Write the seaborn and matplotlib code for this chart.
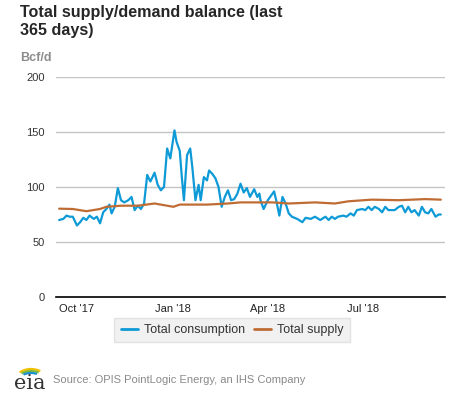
import pandas as pd
import numpy as np
import matplotlib
matplotlib.use("Agg")
import matplotlib.pyplot as plt
import matplotlib.dates as mdates
from matplotlib.patches import Arc
import seaborn as sns

# readings taken off the chart (Bcf/d)
cons_dates = [
    "2017-09-14", "2017-09-18", "2017-09-21", "2017-09-24", "2017-09-27", "2017-10-01",
    "2017-10-04", "2017-10-07", "2017-10-10", "2017-10-13", "2017-10-17", "2017-10-20",
    "2017-10-23", "2017-10-26", "2017-10-29", "2017-11-01", "2017-11-03", "2017-11-06",
    "2017-11-09", "2017-11-12", "2017-11-15", "2017-11-19", "2017-11-22", "2017-11-25",
    "2017-11-28", "2017-12-01", "2017-12-04", "2017-12-07", "2017-12-10", "2017-12-14",
    "2017-12-17", "2017-12-20", "2017-12-23", "2017-12-26", "2017-12-29", "2018-01-02",
    "2018-01-04", "2018-01-07", "2018-01-09", "2018-01-11", "2018-01-14", "2018-01-17",
    "2018-01-19", "2018-01-22", "2018-01-25", "2018-01-27", "2018-01-30", "2018-02-02",
    "2018-02-04", "2018-02-07", "2018-02-10", "2018-02-13", "2018-02-16", "2018-02-19",
    "2018-02-22", "2018-02-25", "2018-02-28", "2018-03-03", "2018-03-06", "2018-03-09",
    "2018-03-12", "2018-03-15", "2018-03-19", "2018-03-22", "2018-03-24", "2018-03-25",
    "2018-03-28", "2018-04-01", "2018-04-04", "2018-04-07", "2018-04-09", "2018-04-12",
    "2018-04-15", "2018-04-18", "2018-04-21", "2018-04-24", "2018-04-29", "2018-05-04",
    "2018-05-07", "2018-05-12", "2018-05-16", "2018-05-21", "2018-05-26", "2018-05-29",
    "2018-06-01", "2018-06-04", "2018-06-07", "2018-06-12", "2018-06-15", "2018-06-19",
    "2018-06-22", "2018-06-25", "2018-06-30", "2018-07-03", "2018-07-06", "2018-07-09",
    "2018-07-12", "2018-07-16", "2018-07-19", "2018-07-22", "2018-07-25", "2018-07-28",
    "2018-07-31", "2018-08-04", "2018-08-07", "2018-08-10", "2018-08-13", "2018-08-16",
    "2018-08-19", "2018-08-23", "2018-08-26", "2018-08-29", "2018-09-01", "2018-09-04",
    "2018-09-08", "2018-09-11", "2018-09-13",
]
consumption = [
    70, 71, 74, 73, 73, 65,
    68, 72, 70, 74, 71, 73,
    67, 77, 80, 84, 76, 82,
    99, 88, 86, 88, 91, 79,
    83, 80, 85, 111, 105, 113,
    102, 97, 100, 135, 126, 151.5,
    141, 133, 109, 88, 129, 135,
    118, 88, 102, 88, 109, 106,
    115, 112, 108, 100, 82, 91,
    97, 88, 89, 94, 103, 95,
    99, 91, 98, 91, 94, 88,
    80, 88, 92, 96, 88, 74,
    91, 85, 76, 73, 71, 68,
    72, 71, 73, 70, 73, 70,
    73, 71, 73, 74, 73, 76,
    74, 79, 80, 79, 82, 79,
    82, 80, 77, 82, 79, 79,
    79, 82, 83, 77, 82, 77,
    79, 74, 82, 77, 76, 80,
    73, 75, 75,
]

supply_dates = [
    "2017-09-14", "2017-09-27", "2017-10-10", "2017-10-23", "2017-10-29", "2017-11-12",
    "2017-11-28", "2017-12-14", "2018-01-01", "2018-01-07", "2018-02-02", "2018-02-22",
    "2018-03-06", "2018-03-22", "2018-04-06", "2018-04-21", "2018-05-16", "2018-06-04",
    "2018-06-17", "2018-07-09", "2018-08-04", "2018-08-29", "2018-09-13",
]
supply = [
    80.3, 80, 78, 80, 82, 83,
    83, 85, 82, 84, 84, 85,
    86, 86, 86, 85, 86, 85,
    87, 88.5, 88, 89, 88.5,
]

tick_dates = ["2017-10-01", "2018-01-01", "2018-04-01", "2018-07-01"]
tick_labels = ["Oct '17", "Jan '18", "Apr '18", "Jul '18"]
y_ticks = [0, 50, 100, 150, 200]

blue = "#0d9ad7"
brown = "#bf6c34"

df = pd.concat([
    pd.DataFrame({"date": pd.to_datetime(cons_dates), "value": consumption,
                  "series": "Total consumption"}),
    pd.DataFrame({"date": pd.to_datetime(supply_dates), "value": supply,
                  "series": "Total supply"}),
])

sns.set_style("white")
plt.rcParams["font.family"] = ["Liberation Sans", "DejaVu Sans"]

fig = plt.figure(figsize=(4.77, 3.93), dpi=100)
ax = fig.add_axes([56 / 477, 1 - 297 / 393, (445 - 56) / 477, 220 / 393])

sns.lineplot(data=df, x="date", y="value", hue="series",
             palette=[blue, brown], linewidth=1.6, ax=ax, legend=False)

ax.set_ylim(0, 200)
ax.set_xlim(pd.Timestamp("2017-09-11"), pd.Timestamp("2018-09-17"))
ax.set_yticks(y_ticks)
ax.set_yticklabels([str(v) for v in y_ticks], color="#333333", fontsize=8)
ax.set_xticks(pd.to_datetime(tick_dates))
ax.set_xticklabels(tick_labels, color="#222222", fontsize=8)
ax.tick_params(axis="x", length=5, width=1, color="black", pad=0, direction="out")
ax.tick_params(axis="y", length=0, pad=8)
ax.grid(axis="y", color="#c4c4c4", linewidth=1)
ax.set_axisbelow(True)
for s in ["top", "right", "left"]:
    ax.spines[s].set_visible(False)
ax.spines["bottom"].set_color("black")
ax.spines["bottom"].set_linewidth(1.2)
ax.set_xlabel("")
ax.set_ylabel("")

fig.text(20 / 477, 1 - 5 / 393, "Total supply/demand balance (last\n365 days)",
         fontsize=11.6, fontweight="bold", va="top", ha="left", linespacing=1.22)
fig.text(20 / 477, 1 - 58 / 393, "Bcf/d", fontsize=9, color="#8c8c8c",
         fontweight="bold", va="center", ha="left")

handles = [plt.Line2D([], [], color=blue, lw=2), plt.Line2D([], [], color=brown, lw=2)]
leg = fig.legend(handles, ["Total consumption", "Total supply"], loc="center",
                 bbox_to_anchor=(232 / 477, 1 - 330 / 393), ncol=2, fontsize=9,
                 frameon=True, fancybox=False, handlelength=1.4, handletextpad=0.45,
                 columnspacing=0.7, borderpad=0.5, borderaxespad=0)
leg.get_frame().set_facecolor("#eeeeee")
leg.get_frame().set_edgecolor("#dddddd")
for t in leg.get_texts():
    t.set_color("#333333")

# eia logo
fig.text(14 / 477, 1 - 389 / 393, "eia", family="DejaVu Serif", fontsize=15,
         color="#333333", ha="left", va="baseline")
lax = fig.add_axes([14 / 477, 1 - 378 / 393, 30 / 477, 14 / 393])
lax.set_xlim(0, 30)
lax.set_ylim(0, 14)
lax.axis("off")
for r, c in [(12, "#f2c200"), (10, "#7cb83a"), (8, "#1a8fd0")]:
    lax.add_patch(Arc((17, -1), 2 * r + 6, 2 * r - 4, theta1=40, theta2=150,
                      color=c, lw=1.6))

fig.text(53 / 477, 1 - 380 / 393, "Source: OPIS PointLogic Energy, an IHS Company",
         fontsize=8, color="#8a8a8a", ha="left", va="center")

fig.savefig("out.png", dpi=100)
